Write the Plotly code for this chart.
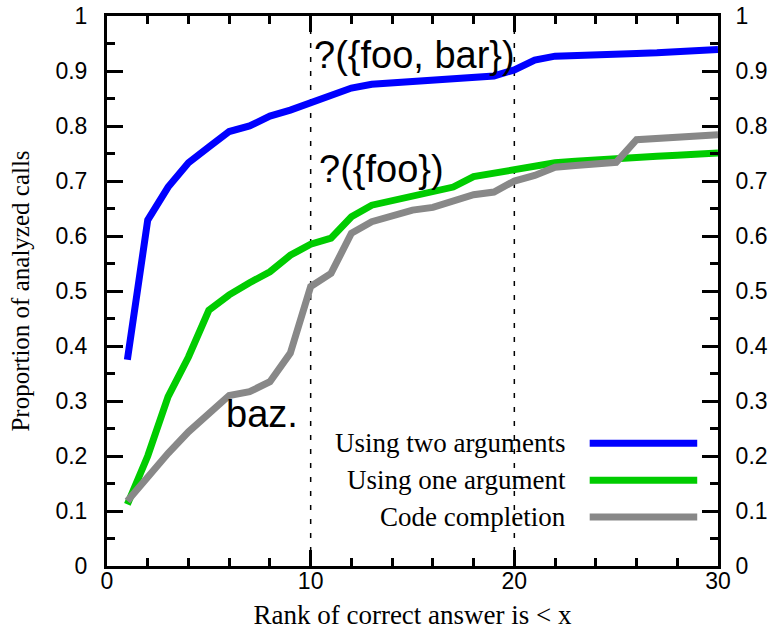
import plotly.graph_objects as go

rank = list(range(1, 31))
two_args = [0.375, 0.629, 0.689, 0.733, 0.762, 0.790, 0.800, 0.818, 0.829, 0.843,
            0.855, 0.869, 0.876, 0.879, 0.882, 0.884, 0.886, 0.888, 0.891, 0.902,
            0.920, 0.927, 0.929, 0.930, 0.931, 0.932, 0.933, 0.935, 0.937, 0.939]
one_arg = [0.112, 0.200, 0.308, 0.380, 0.465, 0.493, 0.515, 0.535, 0.565, 0.585,
           0.596, 0.635, 0.656, 0.664, 0.671, 0.680, 0.689, 0.708, 0.714, 0.723,
           0.729, 0.733, 0.736, 0.739, 0.741, 0.743, 0.745, 0.747, 0.749, 0.751]
code_completion = [0.118, 0.163, 0.205, 0.244, 0.278, 0.310, 0.317, 0.335, 0.387, 0.508,
                   0.532, 0.605, 0.626, 0.635, 0.647, 0.652, 0.665, 0.675, 0.680, 0.700,
                   0.710, 0.725, 0.728, 0.730, 0.734, 0.775, 0.777, 0.779, 0.781, 0.784]

series_names = ["Using two arguments", "Using one argument", "Code completion"]
series_colors = ["#0000ff", "#00cc00", "#888888"]
series_values = [two_args, one_arg, code_completion]

ref_lines = [10, 20]
labels = ["?({foo, bar})", "?({foo})", "baz."]
label_x = [15.1, 13.5, 7.6]
label_y = [0.930, 0.722, 0.276]

x_range = [0, 30]
y_range = [0, 1]
y_ticks = [0, 0.1, 0.2, 0.3, 0.4, 0.5, 0.6, 0.7, 0.8, 0.9, 1]
y_ticktext = ["0", "0.1", "0.2", "0.3", "0.4", "0.5", "0.6", "0.7", "0.8", "0.9", "1"]

fig = go.Figure()
for name, color, vals in zip(series_names, series_colors, series_values):
    fig.add_trace(go.Scatter(x=rank, y=vals, mode="lines", name=name,
                             line=dict(color=color, width=7), showlegend=False))
# invisible trace to keep right axis alive
fig.add_trace(go.Scatter(x=rank, y=two_args, yaxis="y2", mode="lines",
                         line=dict(width=0), opacity=0, showlegend=False,
                         hoverinfo="skip"))

tickfont = dict(family="Liberation Sans, Arial, sans-serif", size=23, color="black")
serif = "Liberation Serif, Times New Roman, serif"

axis_common = dict(showline=True, linecolor="black", linewidth=3, ticks="inside",
                   ticklen=16, tickwidth=2.5, tickcolor="black", showgrid=False,
                   zeroline=False, tickfont=tickfont, automargin=False)

fig.update_layout(
    width=770, height=630,
    margin=dict(l=107, r=52, t=16, b=64),
    plot_bgcolor="white", paper_bgcolor="white",
    showlegend=False,
    xaxis=dict(range=x_range, tickvals=[0, 10, 20, 30], mirror="ticks",
               minor=dict(dtick=2, ticks="inside", ticklen=8, tickwidth=2.5, tickcolor="black"),
               title=dict(text="Rank of correct answer is < x",
                          font=dict(family=serif, size=27, color="black"), standoff=25),
               ticklabelstandoff=-8,
               **axis_common),
    yaxis=dict(range=y_range, tickvals=y_ticks, ticktext=y_ticktext,
               minor=dict(dtick=0.05, ticks="inside", ticklen=8, tickwidth=2.5, tickcolor="black"),
               title=dict(text="Proportion of analyzed calls",
                          font=dict(family=serif, size=25, color="black"), standoff=19),
               ticklabelstandoff=12,
               **axis_common),
    yaxis2=dict(range=y_range, tickvals=y_ticks, ticktext=y_ticktext, overlaying="y",
                side="right",
                minor=dict(dtick=0.05, ticks="inside", ticklen=8, tickwidth=2.5, tickcolor="black"),
                ticklabelstandoff=10,
                **axis_common),
)

for xv in ref_lines:
    fig.add_shape(type="line", xref="x", yref="paper", x0=xv, x1=xv, y0=0, y1=1,
                  line=dict(color="black", width=1.5, dash="5px,9px"), layer="below")

for t, lx, ly in zip(labels, label_x, label_y):
    fig.add_annotation(x=lx, y=ly, xref="x", yref="y", text=t, showarrow=False,
                       font=dict(family="Liberation Sans, Arial, sans-serif", size=38,
                                 color="black"))

# custom legend: text right-aligned, line sample on the right
leg_y = [0.223, 0.156, 0.089]
for name, color, ly in zip(series_names, series_colors, leg_y):
    fig.add_annotation(x=0.755, y=ly, xref="paper", yref="paper", text=name,
                       showarrow=False, xanchor="right", yanchor="middle",
                       font=dict(family=serif, size=27, color="black"))
    fig.add_shape(type="line", xref="paper", yref="paper", x0=0.790, x1=0.966,
                  y0=ly, y1=ly, line=dict(color=color, width=7))

# partially visible title at the top
fig.add_annotation(x=0.5565, y=1, xref="paper", yref="paper", text="display",
                   showarrow=False, yanchor="bottom", yshift=15,
                   font=dict(family="Liberation Sans, Arial, sans-serif", size=40,
                             color="#3a3ac8"))

fig.write_html("out.html", config={"displayModeBar": False},
               post_script="document.body.style.margin='0px';document.body.style.overflow='hidden';")
